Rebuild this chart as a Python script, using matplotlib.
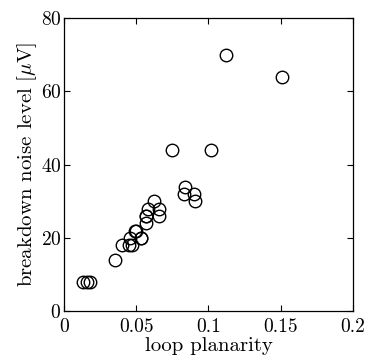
import matplotlib
matplotlib.use('Agg')
import matplotlib.pyplot as plt
from matplotlib.ticker import FixedLocator, FixedFormatter

plt.rcParams['font.family'] = 'cmr10'
plt.rcParams['mathtext.fontset'] = 'cm'
plt.rcParams['axes.formatter.use_mathtext'] = True

# data
planarity = [0.013, 0.016, 0.018, 0.035, 0.040, 0.045, 0.046, 0.047, 0.049,
             0.050, 0.053, 0.053, 0.057, 0.057, 0.057, 0.058, 0.062, 0.066,
             0.066, 0.075, 0.083, 0.084, 0.090, 0.091, 0.102, 0.112, 0.151]
noise = [8, 8, 8, 14, 18, 18, 20, 18, 22,
         22, 20, 20, 24, 26, 26, 28, 30, 28,
         26, 44, 32, 34, 32, 30, 44, 70, 64]

xticks = [0, 0.05, 0.1, 0.15, 0.2]
xticklabels = ['0', '0.05', '0.1', '0.15', '0.2']
yticks = [0, 20, 40, 60, 80]

fig = plt.figure(figsize=(3.7, 3.63), dpi=100)
ax = fig.add_axes([0.173, 0.143, 0.781, 0.807])

ax.plot(planarity, noise, 'o', mfc='none', mec='black', mew=1.0, ms=9)

ax.set_xlim(0, 0.2)
ax.set_ylim(0, 80)
ax.xaxis.set_major_locator(FixedLocator(xticks))
ax.xaxis.set_major_formatter(FixedFormatter(xticklabels))
ax.set_yticks(yticks)
ax.tick_params(direction='in', top=True, right=True, labelsize=14, length=4, width=0.8)
ax.tick_params(axis='x', pad=5)
ax.tick_params(axis='y', pad=2)
for s in ax.spines.values():
    s.set_linewidth(0.9)

ax.set_xlabel('loop planarity', fontsize=15, labelpad=1)
ax.set_ylabel(r'breakdown noise level [$\mu$V]', fontsize=15, labelpad=1)

plt.savefig('out.png', dpi=100)
